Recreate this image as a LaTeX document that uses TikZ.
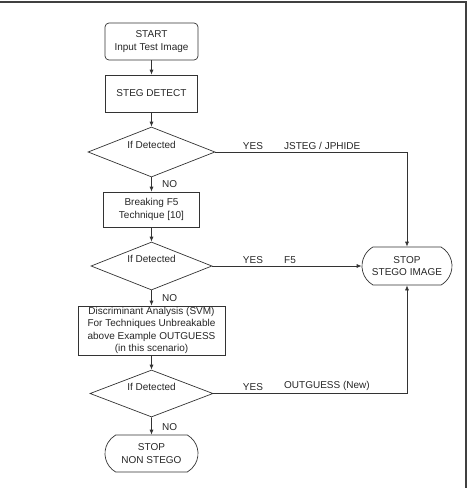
\documentclass[tikz,border=0pt]{standalone}
\usepackage{fontspec}
\setmainfont{Liberation Sans}
\usetikzlibrary{shapes.geometric,shapes.misc,arrows.meta}

\begin{document}
\begin{tikzpicture}[x=1pt,y=-1pt,
  font=\fontsize{10}{12.5}\selectfont,
  every node/.style={align=center,text=black!85},
  line/.style={draw=black!80,line width=0.7pt},
  flow/.style={line,-{Latex[length=5pt,width=4pt]}},
  procbox/.style={line,rectangle,inner sep=1pt},
  startbox/.style={line,rectangle,rounded corners=4pt,inner sep=1pt},
  stopbox/.style={line,rounded rectangle,rounded rectangle arc length=120,
    inner sep=1pt,minimum height=37pt},
  decision/.style={line,diamond,aspect=2.5,inner sep=0pt,
    text height=7pt,text depth=14pt},
  tag/.style={inner sep=1pt,anchor=south}]
% frame
\useasboundingbox (0,0) rectangle (467,488);
\draw[draw=black!75,line width=1.2pt] (0,2) -- (466,2) -- (466,488);
% main column
\node[startbox,minimum width=93pt,minimum height=37pt] (start) at (151.5,41.5) {START\\Input Test Image};
\node[procbox,minimum width=92pt,minimum height=37pt] (detect) at (151.5,93.5) {STEG DETECT};
\node[decision,minimum width=127pt,minimum height=50pt] (if1) at (151.5,152) {If Detected};
\node[procbox,minimum width=96pt,minimum height=35pt] (f5) at (151.5,209.5) {Breaking F5\\Technique [10]};
\node[decision,minimum width=121pt,minimum height=48pt] (if2) at (151.5,266) {If Detected};
\node[procbox,minimum width=147pt,minimum height=49pt] (svm) at (151.5,330.5)
  {Discriminant Analysis (SVM)\\For Techniques Unbreakable\\above Example OUTGUESS\\(in this scenario)};
\node[decision,minimum width=123pt,minimum height=47pt] (if3) at (151.5,393.5) {If Detected};
\node[stopbox,minimum width=95pt] (nonstego) at (151.5,453.5) {STOP\\NON STEGO};
% right hand
\node[stopbox,minimum width=92pt,minimum height=38pt] (stego) at (407,266) {STOP\\STEGO IMAGE};
\coordinate (c1) at (stego.north |- if1.east);
\coordinate (c3) at (stego.south |- if3.east);
% connectors
\draw[flow] (start) -- (detect);
\draw[flow] (detect) -- (if1);
\draw[flow] (if1) -- (f5);
\draw[flow] (f5) -- (if2);
\draw[flow] (if2) -- (svm);
\draw[flow] (svm) -- (if3);
\draw[flow] (if3) -- (nonstego);
\draw[flow] (if1.east) -- (c1) -- (stego.north);
\draw[flow] (if2.east) -- (stego.west);
\draw[flow] (if3.east) -- (c3) -- (stego.south);
% labels
\node[tag] (yes1) at (253,151) {YES};
\node[tag,anchor=south west] (jsteg) at (283,151) {JSTEG / JPHIDE};
\node[tag] (yes2) at (253,265) {YES};
\node[tag,anchor=south west] (f5tag) at (283,265) {F5};
\node[tag] (yes3) at (253,392) {YES};
\node[tag,anchor=south west] (outguess) at (283,392) {OUTGUESS (New)};
\node[anchor=west,inner sep=1pt] (no1) at (161,184) {NO};
\node[anchor=west,inner sep=1pt] (no2) at (161,298) {NO};
\node[anchor=west,inner sep=1pt] (no3) at (161,427) {NO};
\end{tikzpicture}
\end{document}
